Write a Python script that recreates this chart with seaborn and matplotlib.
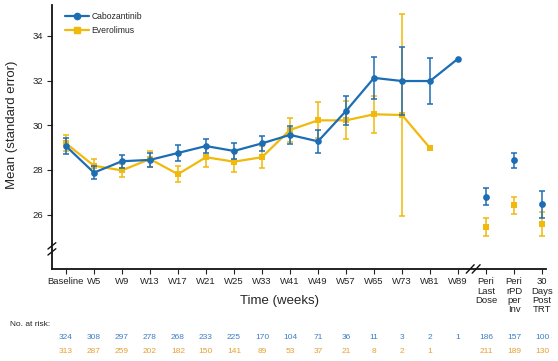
import numpy as np
import pandas as pd
import matplotlib
matplotlib.use("Agg")
import matplotlib.pyplot as plt
from matplotlib.lines import Line2D
import seaborn as sns

# Data
timepoints = ["Baseline", "W5", "W9", "W13", "W17", "W21", "W25", "W33", "W41",
              "W49", "W57", "W65", "W73", "W81", "W89",
              "Peri\nLast\nDose", "Peri\nrPD\nper\nInv", "30\nDays\nPost\nTRT"]
cabo_mean = [29.07, 27.88, 28.39, 28.45, 28.76, 29.07, 28.85, 29.19, 29.57,
             29.28, 30.64, 32.12, 31.98, 31.98, 32.98, 26.81, 28.43, 26.47]
cabo_se = [0.36, 0.3, 0.3, 0.3, 0.35, 0.3, 0.35, 0.35, 0.4,
           0.5, 0.65, 0.95, 1.53, 1.03, np.nan, 0.4, 0.35, 0.6]
evero_mean = [29.19, 28.19, 27.98, 28.49, 27.81, 28.57, 28.37, 28.57, 29.79,
              30.22, 30.22, 30.49, 30.46, 28.98, np.nan, 25.45, 26.42, 25.57]
evero_se = [0.36, 0.3, 0.3, 0.35, 0.37, 0.45, 0.45, 0.5, 0.55,
            0.8, 0.85, 0.84, 4.5, np.nan, np.nan, 0.4, 0.37, 0.53]
cabo_risk = ["324", "308", "297", "278", "268", "233", "225", "170", "104",
             "71", "36", "11", "3", "2", "1", "186", "157", "100"]
evero_risk = ["313", "287", "259", "202", "182", "150", "141", "89", "53",
              "37", "21", "8", "2", "1", "", "211", "189", "130"]
n_weeks = 15  # Baseline .. W89 are joined by lines

blue = "#1d6db5"
yellow = "#f0b90c"

df = pd.DataFrame({"pos": np.arange(len(timepoints)),
                   "cabo": cabo_mean, "cabo_se": cabo_se,
                   "evero": evero_mean, "evero_se": evero_se})
weeks = df.iloc[:n_weeks]
peri = df.iloc[n_weeks:]

sns.set_style("ticks")
plt.rcParams["font.family"] = ["Liberation Sans", "DejaVu Sans"]

fig = plt.figure(figsize=(5.58, 3.61), dpi=100)
ax = fig.add_axes([0.093, 0.255, 0.886, 0.731])

# Everolimus (drawn first, blue on top)
ax.errorbar(df["pos"], df["evero"], yerr=df["evero_se"], fmt="none",
            ecolor=yellow, elinewidth=1.1, capsize=2.5, capthick=1.1, zorder=2)
sns.lineplot(data=weeks, x="pos", y="evero", color=yellow, lw=1.6,
             marker="s", markersize=4.5, markeredgewidth=0, ax=ax, zorder=3)
sns.scatterplot(data=peri, x="pos", y="evero", color=yellow, marker="s",
                s=22, linewidth=0, ax=ax, zorder=3)

# Cabozantinib
ax.errorbar(df["pos"], df["cabo"], yerr=df["cabo_se"], fmt="none",
            ecolor=blue, elinewidth=1.1, capsize=2.5, capthick=1.1, zorder=4)
sns.lineplot(data=weeks, x="pos", y="cabo", color=blue, lw=1.6,
             marker="o", markersize=4.8, markeredgewidth=0, ax=ax, zorder=5)
sns.scatterplot(data=peri, x="pos", y="cabo", color=blue, marker="o",
                s=24, linewidth=0, ax=ax, zorder=5)

ax.set_xlim(-0.5, 17.15)
ax.set_ylim(23.57, 35.38)
ax.set_yticks([26, 28, 30, 32, 34])
ax.set_xticks(df["pos"])
ax.set_xticklabels(timepoints, va="top", linespacing=1.05)
ax.tick_params(labelsize=6.8, length=3.5, width=0.8, pad=2.5, colors="#222222")
sns.despine(ax=ax)
for s in ["left", "bottom"]:
    ax.spines[s].set_linewidth(1.3)
    ax.spines[s].set_color("#111111")

ax.set_xlabel("Time (weeks)", fontsize=9.5)
ax.xaxis.set_label_coords(0.46, -0.1)
ax.set_ylabel("Mean (standard error)", fontsize=9.5)
ax.yaxis.set_label_coords(-0.068, 0.545)

# axis break marks
for d in (-0.006, 0.006):
    ax.plot([-0.008, 0.008], [0.064 + d * 1.9, 0.088 + d * 1.9],
            transform=ax.transAxes, color="#111111", lw=1, clip_on=False)
bx = (14.54 + 0.5) / 17.65
for d in (-0.006, 0.006):
    ax.plot([bx - 0.008 + d, bx + 0.008 + d], [-0.016, 0.016],
            transform=ax.transAxes, color="#111111", lw=1, clip_on=False)

# legend
handles = [Line2D([], [], color=blue, marker="o", lw=1.6, markersize=4.5),
           Line2D([], [], color=yellow, marker="s", lw=1.6, markersize=4.5)]
ax.legend(handles, ["Cabozantinib", "Everolimus"], loc="upper left",
          frameon=False, fontsize=6.2, handlelength=2.8, handletextpad=0.2,
          borderaxespad=0.3, labelspacing=0.55, bbox_to_anchor=(0.015, 0.995))

# numbers at risk
fig.text(0.018, 1 - 324 / 361, "No. at risk:", fontsize=6, va="center",
         color="#222222")
tr = ax.get_xaxis_transform()
for i in range(len(timepoints)):
    ax.text(i, -0.258, cabo_risk[i], transform=tr, ha="center", va="center",
            fontsize=6, color="#3b7fc6")
    ax.text(i, -0.314, evero_risk[i], transform=tr, ha="center", va="center",
            fontsize=6, color="#e5a030")

fig.savefig("out.png", dpi=100)
